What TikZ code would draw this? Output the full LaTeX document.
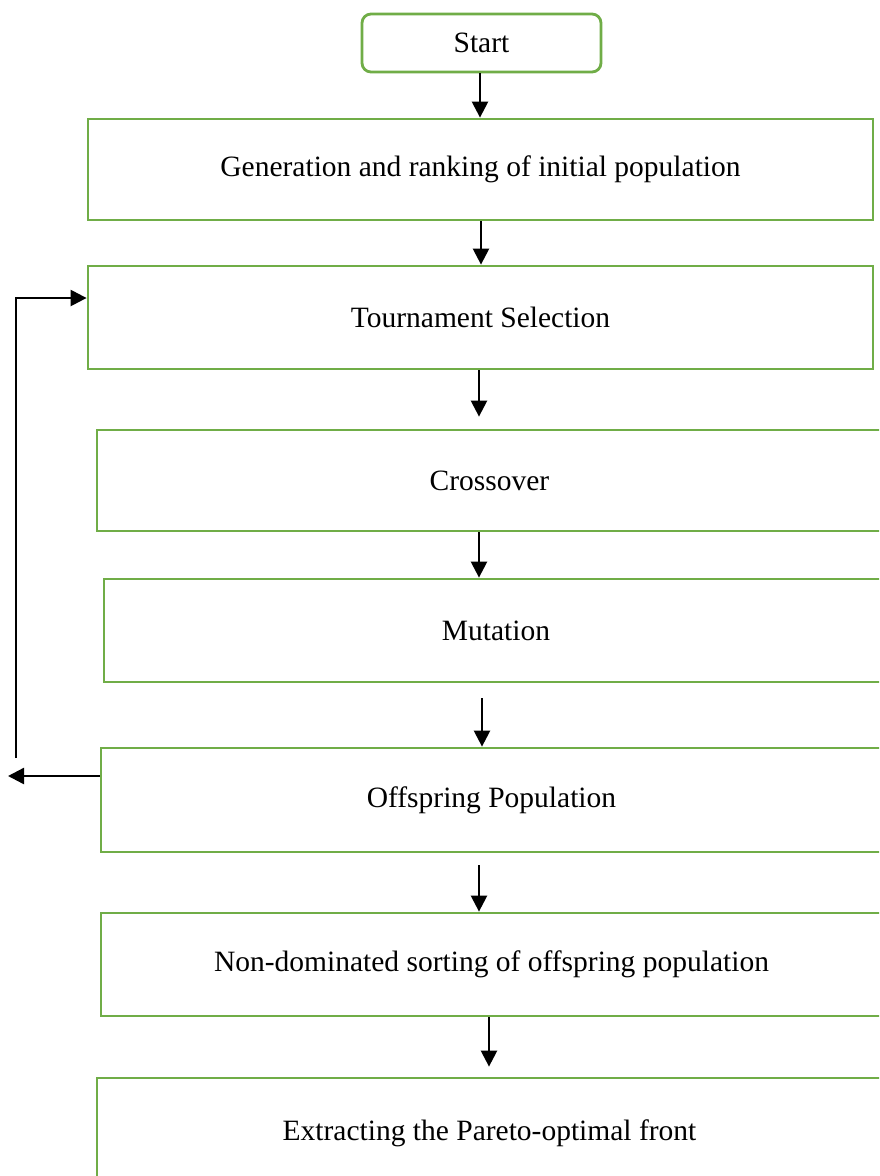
\documentclass[tikz,border=0pt]{standalone}
\usepackage{fontspec}
\setmainfont{Liberation Serif}
\usetikzlibrary{arrows.meta,calc}
\definecolor{boxgreen}{HTML}{70AD47}
\begin{document}
\begin{tikzpicture}[x=1pt,y=-1pt,
  every node/.style={font=\fontsize{29.5}{35}\selectfont},
  stepbox/.style={draw=boxgreen,line width=2.8pt,rectangle,inner sep=0pt},
  startbox/.style={draw=boxgreen,line width=2.8pt,rectangle,rounded corners=9pt,inner sep=0pt},
  arr/.style={line width=2.4pt,-{Triangle[width=16pt,length=16pt]}},
  loopline/.style={line width=1.8pt}]
\useasboundingbox (0,0) rectangle (879,1176);
\clip (0,0) rectangle (879,1176);
\fill[white] (0,0) rectangle (879,1176);
% boxes
\node[startbox,minimum width=239pt,minimum height=58pt] (start) at (481.5,43) {Start};
\node[stepbox,minimum width=785pt,minimum height=101pt] (gen) at (480.5,169.5) {Generation and ranking of initial population};
\node[stepbox,minimum width=785pt,minimum height=103pt] (tour) at (480.5,317.5) {Tournament Selection};
\node[stepbox,minimum width=785pt,minimum height=101pt] (cross) at (489.5,480.5) {Crossover};
\node[stepbox,minimum width=784pt,minimum height=103pt] (mut) at (496,630.5) {Mutation};
\node[stepbox,minimum width=781pt,minimum height=104pt] (off) at (491.5,800) {Offspring Population};
\node[stepbox,minimum width=781pt,minimum height=103pt] (nds) at (491.5,964.5) {Non-dominated sorting of offspring population};
\node[stepbox,minimum width=785pt,minimum height=110pt] (ext) at (489.5,1133) {Extracting the Pareto-optimal front};
% column coordinates
\coordinate (c480) at (480,0);
\coordinate (c481) at (481,0);
\coordinate (c479) at (479,0);
\coordinate (c482) at (482,0);
\coordinate (c489) at (489,0);
% vertical arrows
\draw[arr] (start.south -| c480) -- (gen.north -| c480);
\draw[arr] (gen.south -| c481) -- (tour.north -| c481);
\draw[arr,shorten >=12pt] (tour.south -| c479) -- (cross.north -| c479);
\draw[arr] (cross.south -| c479) -- (mut.north -| c479);
\draw[arr,shorten <=15pt] (mut.south -| c482) -- (off.north -| c482);
\draw[arr,shorten <=12pt] (off.south -| c479) -- (nds.north -| c479);
\draw[arr,shorten >=10pt] (nds.south -| c489) -- (ext.north -| c489);
% feedback loop
\coordinate (loopbot) at (16,758);
\coordinate (loopout) at (8,776);
\coordinate (looptop) at (16,298);
\draw[loopline] (loopbot) -- (looptop) -- ++(4,0);
\draw[arr] (looptop) -- (tour.west |- looptop);
\draw[arr] (off.west |- loopout) -- (loopout);
\end{tikzpicture}
\end{document}
